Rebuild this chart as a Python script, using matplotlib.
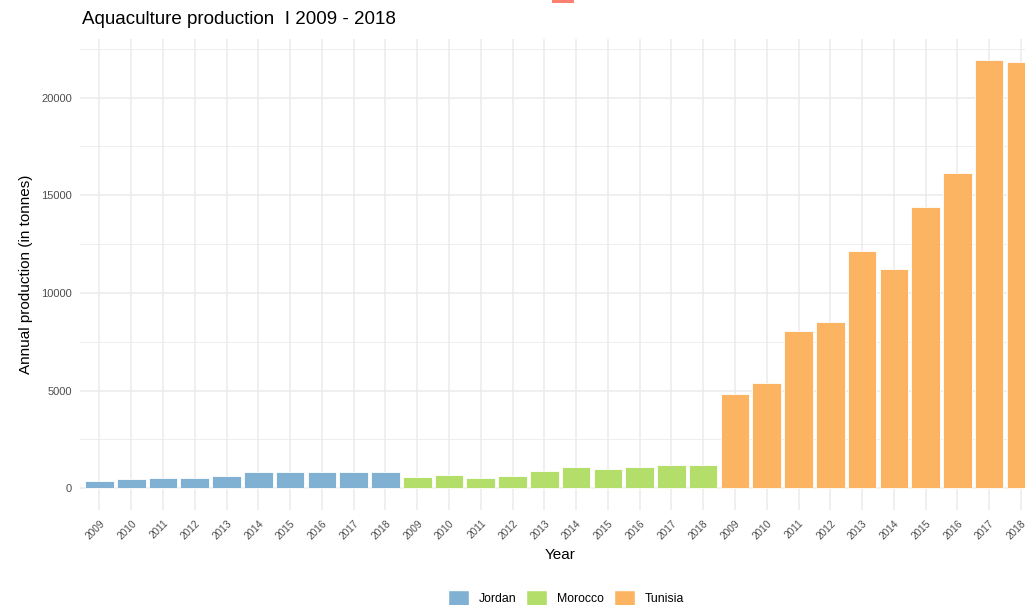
import matplotlib
matplotlib.use("Agg")
import matplotlib.pyplot as plt
from matplotlib.patches import Patch, Rectangle
from matplotlib.ticker import MultipleLocator

plt.rcParams['font.family'] = ['Liberation Sans', 'DejaVu Sans']

countries = ["Jordan", "Morocco", "Tunisia"]
years = [str(y) for y in range(2009, 2019)]
colors = {"Jordan": "#80B1D3", "Morocco": "#B3DE69", "Tunisia": "#FDB462"}

jordan = [370, 480, 510, 540, 650, 830, 830, 830, 820, 840]
morocco = [590, 660, 540, 610, 900, 1100, 980, 1070, 1190, 1190]
tunisia = [4850, 5370, 8070, 8530, 12150, 11230, 14390, 16150, 21910, 21810]
values = {"Jordan": jordan, "Morocco": morocco, "Tunisia": tunisia}

W, H = 1025, 605
fig = plt.figure(figsize=(W / 100, H / 100), dpi=100)
ax = fig.add_axes([80.4 / W, 0.1575, (1040 - 80.4) / W, 0.7782])

pos = 1
xticks, xlabels = [], []
for c in countries:
    xs = list(range(pos, pos + len(years)))
    ax.bar(xs, values[c], width=0.9, color=colors[c], edgecolor="white",
           linewidth=0.6, zorder=3)
    xticks += xs
    xlabels += years
    pos += len(years)

allv = jordan + morocco + tunisia
ymax = max(allv)
ax.set_xlim(0.4, len(xticks) + 0.6)
ax.set_ylim(-0.05 * ymax, 1.05 * ymax)

ax.yaxis.set_major_locator(MultipleLocator(5000))
ax.yaxis.set_minor_locator(MultipleLocator(2500))
ax.set_xticks(xticks)
ax.set_xticklabels(xlabels, rotation=45, ha="right", va="top",
                   rotation_mode="anchor", fontsize=7.3, color="#4D4D4D")
ax.tick_params(axis="y", labelsize=8, labelcolor="#4D4D4D", length=0, pad=6)
ax.tick_params(axis="x", length=0, pad=6)
ax.tick_params(which="minor", length=0)

ax.grid(True, which="major", color="#EBEBEB", linewidth=1.1, zorder=0)
ax.grid(True, which="minor", axis="y", color="#EBEBEB", linewidth=0.6, zorder=0)
for s in ax.spines.values():
    s.set_visible(False)
ax.set_facecolor("white")

ax.set_xlabel("Year", fontsize=11, color="black", labelpad=5)
ax.set_ylabel("Annual production (in tonnes)", fontsize=11, color="black",
              labelpad=6)

fig.text(82 / W, 1 - 19 / H, "Aquaculture production  I 2009 - 2018",
         fontsize=13.5, ha="left", va="center", color="black")

handles = [Patch(facecolor=colors[c], edgecolor="white", label=c) for c in countries]
fig.legend(handles=handles, loc="center", bbox_to_anchor=(566 / W, 7 / H),
           ncol=3, frameon=False, fontsize=8.8, handlelength=1.75,
           handleheight=1.6, handletextpad=0.8, columnspacing=0.8)

fig.patches.append(Rectangle((552 / W, 1 - 2.5 / H), 22 / W, 3 / H,
                             transform=fig.transFigure, facecolor="#FB8072",
                             edgecolor="none"))

fig.savefig("out.png", dpi=100)
